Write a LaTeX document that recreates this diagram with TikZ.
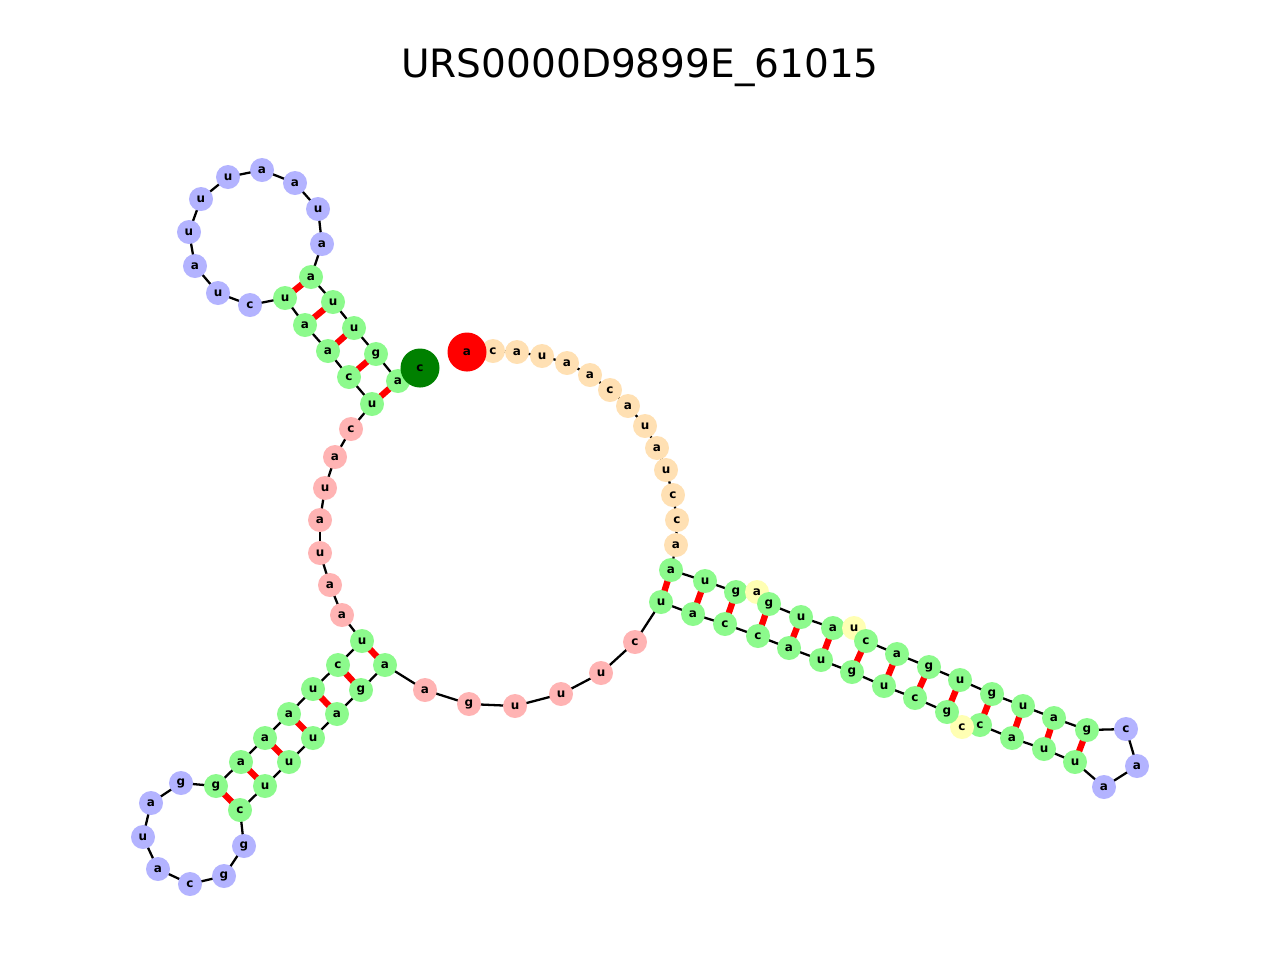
\documentclass[tikz,border=0pt]{standalone}
\usepackage{fontspec}
\setmainfont{DejaVu Sans}
\begin{document}
\begin{tikzpicture}[x=0.01cm,y=-0.01cm,
 nt/.style={circle,inner sep=0pt,minimum size=0.24cm,font=\fontsize{3.4}{3.4}\selectfont\bfseries},
 bb/.style={line width=0.65pt},
 pr/.style={red,line width=1.8pt}]
\definecolor{cG}{HTML}{8CFA8C}\definecolor{cB}{HTML}{B3B3FF}\definecolor{cP}{HTML}{FFB3B3}
\definecolor{cO}{HTML}{FFE0B3}\definecolor{cY}{HTML}{FFFFB3}\definecolor{cD}{HTML}{008000}
\useasboundingbox (0,0) rectangle (1280,960);
\node[font=\fontsize{11.1}{13}\selectfont] (title) at (640,68) {URS0000D9899E\_61015};
\foreach \i/\x/\y in {1/467/352,2/493/351,3/517/352,4/542/356,5/567/363,6/590/375,7/610/390,8/628/406,9/645/426,10/657/448,11/666/470,12/673/495,13/677/520,14/676/545,15/671/570,16/705/581,17/736/592,18/757/592,19/769/604,20/801/617,21/833/628,22/854/628,23/866/641,24/897/654,25/929/667,26/960/680,27/992/694,28/1023/706,29/1054/718,30/1087/730,31/1126/729,32/1137/766,33/1104/787,34/1075/762,35/1044/749,36/1012/738,37/980/725,38/962/727,39/947/712,40/915/698,41/884/686,42/852/672,43/821/660,44/789/648,45/758/636,46/725/624,47/693/614,48/661/602,49/635/642,50/601/673,51/561/694,52/515/706,53/469/704,54/425/690,55/385/665,56/361/690,57/337/714,58/313/738,59/289/762,60/265/786,61/240/810,62/244/846,63/224/876,64/190/884,65/158/869,66/143/837,67/151/803,68/181/783,69/216/786,70/241/762,71/265/738,72/289/714,73/313/689,74/338/665,75/362/641,76/342/615,77/330/585,78/320/553,79/320/520,80/325/488,81/335/457,82/351/429,83/372/404,84/349/377,85/328/351,86/305/325,87/285/298,88/250/305,89/218/293,90/195/266,91/189/232,92/201/199,93/228/177,94/262/170,95/295/183,96/318/209,97/322/244,98/311/277,99/333/302,100/354/328,101/376/354,102/398/381,103/420/368}
 \coordinate (p\i) at (\x,\y);
\foreach \a/\b in {15/48,16/47,17/46,19/45,20/44,21/43,23/42,24/41,25/40,26/39,27/37,28/36,29/35,30/34,55/75,56/74,57/73,58/72,59/71,60/70,61/69,83/102,84/101,85/100,86/99,87/98}
 \draw[pr] (p\a) -- (p\b);
\foreach \i [evaluate=\i as \j using int(\i+1)] in {1,...,102}
 \draw[bb] (p\i) -- (p\j);
\foreach \i/\l/\c in {2/c/cO,3/a/cO,4/u/cO,5/a/cO,6/a/cO,7/c/cO,8/a/cO,9/u/cO,10/a/cO,11/u/cO,12/c/cO,13/c/cO,14/a/cO,15/a/cG,16/u/cG,17/g/cG,18/a/cY,19/g/cG,20/u/cG,21/a/cG,22/u/cY,23/c/cG,24/a/cG,25/g/cG,26/u/cG,27/g/cG,28/u/cG,29/a/cG,30/g/cG,31/c/cB,32/a/cB,33/a/cB,34/u/cG,35/u/cG,36/a/cG,37/c/cG,38/c/cY,39/g/cG,40/c/cG,41/u/cG,42/g/cG,43/u/cG,44/a/cG,45/c/cG,46/c/cG,47/a/cG,48/u/cG,49/c/cP,50/u/cP,51/u/cP,52/u/cP,53/g/cP,54/a/cP,55/a/cG,56/g/cG,57/a/cG,58/u/cG,59/u/cG,60/u/cG,61/c/cG,62/g/cB,63/g/cB,64/c/cB,65/a/cB,66/u/cB,67/a/cB,68/g/cB,69/g/cG,70/a/cG,71/a/cG,72/a/cG,73/u/cG,74/c/cG,75/u/cG,76/a/cP,77/a/cP,78/u/cP,79/a/cP,80/u/cP,81/a/cP,82/c/cP,83/u/cG,84/c/cG,85/a/cG,86/a/cG,87/u/cG,88/c/cB,89/u/cB,90/a/cB,91/u/cB,92/u/cB,93/u/cB,94/a/cB,95/a/cB,96/u/cB,97/a/cB,98/a/cG,99/u/cG,100/u/cG,101/g/cG,102/a/cG}
 \node[nt,fill=\c] (n\i) at (p\i) {\l};
\node[nt,fill=red,minimum size=0.39cm] (n1) at (p1) {a};
\node[nt,fill=cD,minimum size=0.39cm] (n103) at (p103) {c};
\end{tikzpicture}
\end{document}
